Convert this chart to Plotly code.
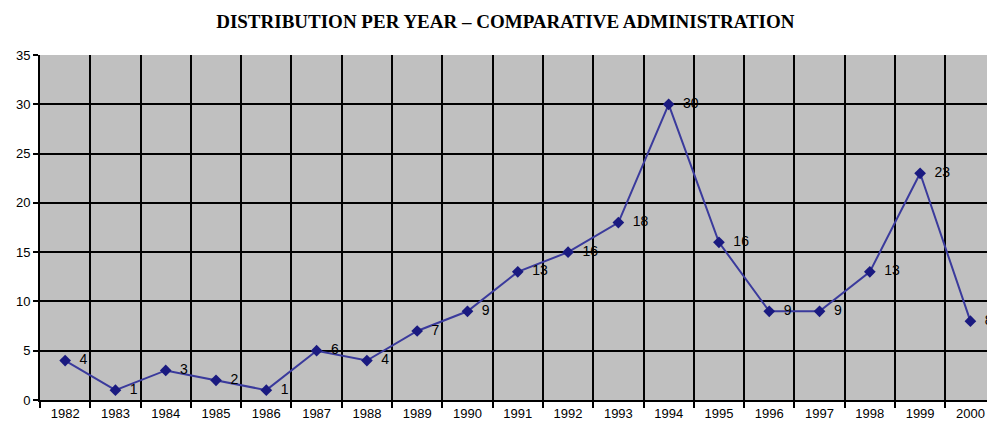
import plotly.graph_objects as go

# datos
anios = ['1982', '1983', '1984', '1985', '1986', '1987', '1988', '1989', '1990', '1991',
         '1992', '1993', '1994', '1995', '1996', '1997', '1998', '1999', '2000']
valores = [4, 1, 3, 2, 1, 5, 4, 7, 9, 13, 15, 18, 30, 16, 9, 9, 13, 23, 8]
etiquetas = ['4', '1', '3', '2', '1', '6', '4', '7', '9', '13',
             '16', '18', '30', '16', '9', '9', '13', '23', '8']

fuente = 'Liberation Sans, Arial'

fig = go.Figure()
fig.add_trace(go.Scatter(
    x=anios,
    y=valores,
    mode='lines+markers+text',
    text=etiquetas,
    texttemplate='\u00a0\u00a0%{text}',
    textposition='middle right',
    textfont=dict(family=fuente, size=14, color='black'),
    line=dict(color='#3a3a9c', width=2),
    marker=dict(symbol='diamond', size=9, color='#1a1a80'),
    cliponaxis=False,
    showlegend=False,
))

fig.update_layout(
    width=987,
    height=423,
    margin=dict(l=40, r=0, t=55, b=23),
    paper_bgcolor='white',
    plot_bgcolor='#c0c0c0',
    title=dict(
        text='<b>DISTRIBUTION PER YEAR – COMPARATIVE ADMINISTRATION</b>',
        x=0.512, xanchor='center', y=0.95, yanchor='middle',
        font=dict(family='Liberation Serif, Times New Roman', size=19, color='black'),
    ),
    xaxis=dict(
        type='category',
        tickson='boundaries',
        range=[-0.5, 18.33],
        automargin=False,
        showgrid=True, gridcolor='black', gridwidth=2,
        ticks='outside', ticklen=6, tickcolor='black', tickwidth=2,
        showline=True, linecolor='black', linewidth=2,
        tickfont=dict(family=fuente, size=13, color='black'),
    ),
    yaxis=dict(
        range=[0, 35],
        dtick=5,
        automargin=False,
        showgrid=True, gridcolor='black', gridwidth=2,
        zeroline=False,
        ticks='outside', ticklen=5, tickcolor='black', tickwidth=2,
        showline=True, linecolor='black', linewidth=2,
        tickfont=dict(family=fuente, size=13, color='black'),
    ),
)

# quitar el margen del body para que la figura empiece en (0, 0)
fig.write_html('out.html', config={'displayModeBar': False},
               post_script="document.body.style.margin='0';")
